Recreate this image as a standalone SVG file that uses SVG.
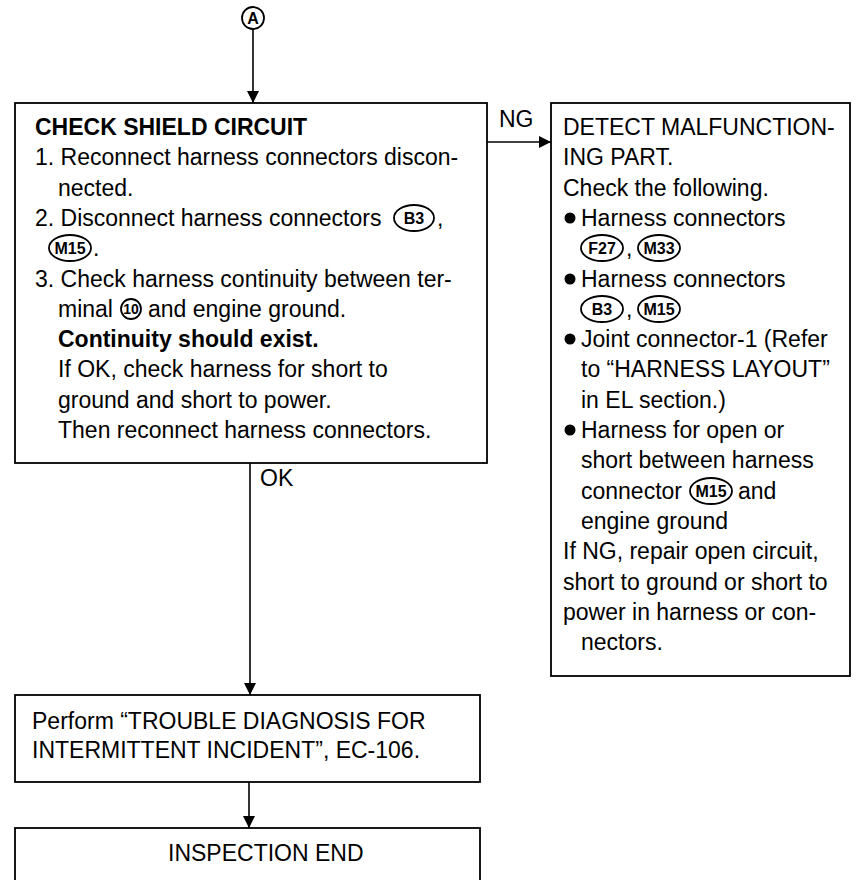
<svg xmlns="http://www.w3.org/2000/svg" width="860" height="880" viewBox="0 0 860 880">
<style>
text{font-family:"Liberation Sans",Arial,sans-serif;font-size:23px;fill:#000}
.b{font-weight:bold}
.box{fill:#fff;stroke:#000;stroke-width:1.8}
.ln{stroke:#000;stroke-width:1.6;fill:none}
.ov{fill:none;stroke:#000;stroke-width:1.8}
.ct{font-size:16px;font-weight:bold;text-anchor:middle}
.dot{fill:#000}
</style>
<defs>
<marker id="ah" viewBox="0 0 12 12" refX="12" refY="6" markerWidth="12" markerHeight="12" markerUnits="userSpaceOnUse" orient="auto">
<path d="M0,0 L12,6 L0,12 Z" fill="#000"/>
</marker>
</defs>

<g id="connectors">
<line class="ln" x1="253" y1="29" x2="253" y2="103" marker-end="url(#ah)"/>
<line class="ln" x1="487" y1="142" x2="551" y2="142" marker-end="url(#ah)"/>
<line class="ln" x1="250" y1="463" x2="250" y2="695" marker-end="url(#ah)"/>
<line class="ln" x1="249" y1="782" x2="249" y2="828" marker-end="url(#ah)"/>
<text x="499" y="127">NG</text>
<text x="260" y="486">OK</text>
</g>

<g id="start">
<circle class="ov" cx="253" cy="18" r="11"/>
<text class="ct" x="253" y="24">A</text>
</g>

<g id="check-shield">
<rect class="box" x="15" y="103" width="472" height="360"/>
<text class="b" x="35" y="135">CHECK SHIELD CIRCUIT</text>
<text x="35" y="165">1. Reconnect harness connectors discon-</text>
<text x="58" y="196">nected.</text>
<text x="35" y="226">2. Disconnect harness connectors</text>
<ellipse class="ov" cx="414" cy="218" rx="20" ry="13"/>
<text class="ct" x="414" y="224">B3</text>
<text x="437" y="226">,</text>
<ellipse class="ov" cx="70" cy="248" rx="21" ry="13"/>
<text class="ct" x="70" y="254">M15</text>
<text x="93" y="256">.</text>
<text x="35" y="287">3. Check harness continuity between ter-</text>
<text x="58" y="317">minal</text>
<circle class="ov" cx="131" cy="309" r="10"/>
<text class="ct" x="131" y="314" style="font-size:14px">10</text>
<text x="148" y="317">and engine ground.</text>
<text class="b" x="58" y="347">Continuity should exist.</text>
<text x="58" y="377">If OK, check harness for short to</text>
<text x="58" y="408">ground and short to power.</text>
<text x="58" y="438">Then reconnect harness connectors.</text>
</g>

<g id="detect-part">
<rect class="box" x="551" y="103" width="299" height="573"/>
<text x="563" y="135">DETECT MALFUNCTION-</text>
<text x="563" y="165">ING PART.</text>
<text x="563" y="196">Check the following.</text>
<circle class="dot" cx="570" cy="218" r="5.5"/>
<text x="581" y="226">Harness connectors</text>
<ellipse class="ov" cx="602" cy="248" rx="21" ry="13"/>
<text class="ct" x="602" y="254">F27</text>
<text x="626" y="256">,</text>
<ellipse class="ov" cx="659" cy="248" rx="21" ry="13"/>
<text class="ct" x="659" y="254">M33</text>
<circle class="dot" cx="570" cy="279" r="5.5"/>
<text x="581" y="287">Harness connectors</text>
<ellipse class="ov" cx="602" cy="309" rx="21" ry="13"/>
<text class="ct" x="602" y="315">B3</text>
<text x="626" y="317">,</text>
<ellipse class="ov" cx="659" cy="309" rx="21" ry="13"/>
<text class="ct" x="659" y="315">M15</text>
<circle class="dot" cx="570" cy="339" r="5.5"/>
<text x="581" y="347">Joint connector-1 (Refer</text>
<text x="581" y="377">to “HARNESS LAYOUT”</text>
<text x="581" y="408">in EL section.)</text>
<circle class="dot" cx="570" cy="430" r="5.5"/>
<text x="581" y="438">Harness for open or</text>
<text x="581" y="468">short between harness</text>
<text x="581" y="499">connector</text>
<ellipse class="ov" cx="711" cy="491" rx="21" ry="13"/>
<text class="ct" x="711" y="497">M15</text>
<text x="738" y="499">and</text>
<text x="581" y="529">engine ground</text>
<text x="563" y="559">If NG, repair open circuit,</text>
<text x="563" y="590">short to ground or short to</text>
<text x="563" y="620">power in harness or con-</text>
<text x="581" y="650">nectors.</text>
</g>

<g id="trouble-diag">
<rect class="box" x="15" y="695" width="465" height="87"/>
<text x="32" y="729">Perform “TROUBLE DIAGNOSIS FOR</text>
<text x="32" y="758">INTERMITTENT INCIDENT”, EC-106.</text>
</g>

<g id="inspection-end">
<rect class="box" x="15" y="828" width="465" height="80"/>
<text x="168" y="861">INSPECTION END</text>
</g>
</svg>
